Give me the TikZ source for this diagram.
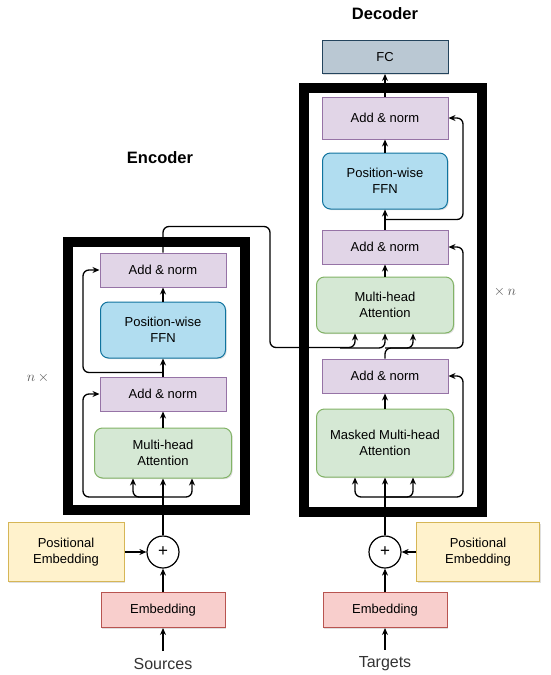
\documentclass[tikz,border=0pt]{standalone}
\usepackage{fontspec}
\setmainfont{Liberation Sans}
\usepackage{xcolor}
\usetikzlibrary{arrows.meta, positioning, shadows}

\definecolor{normfill}{HTML}{E1D5E7}
\definecolor{normdraw}{HTML}{9673A6}
\definecolor{ffnfill}{HTML}{B1DDF0}
\definecolor{ffndraw}{HTML}{10739E}
\definecolor{attfill}{HTML}{D5E8D4}
\definecolor{attdraw}{HTML}{82B366}
\definecolor{posfill}{HTML}{FFF2CC}
\definecolor{posdraw}{HTML}{D6B656}
\definecolor{embfill}{HTML}{F8CECC}
\definecolor{embdraw}{HTML}{B85450}
\definecolor{fcfill}{HTML}{BAC8D3}
\definecolor{fcdraw}{HTML}{23445D}

\begin{document}
\begin{tikzpicture}[
  x=1pt, y=-1pt,
  box/.style={rectangle, line width=1pt, inner sep=0pt, align=center,
              font=\fontsize{13}{15.5}\selectfont,
              drop shadow={shadow xshift=1.2pt, shadow yshift=-1.2pt, opacity=0.25}},
  norm/.style={box, fill=normfill, draw=normdraw, minimum width=126pt, minimum height=34pt},
  ffn/.style={box, rounded corners=8pt, fill=ffnfill, draw=ffndraw, minimum width=125pt, minimum height=56pt},
  att/.style={box, rounded corners=8pt, fill=attfill, draw=attdraw, minimum width=137pt},
  posemb/.style={box, fill=posfill, draw=posdraw, minimum height=59pt},
  emb/.style={box, fill=embfill, draw=embdraw, minimum width=124pt, minimum height=35pt},
  fcbox/.style={box, fill=fcfill, draw=fcdraw, minimum width=126pt, minimum height=33pt},
  plus/.style={circle, draw, line width=1.2pt, fill=white, minimum size=32pt, inner sep=0pt,
               font=\fontsize{17}{17}\selectfont},
  stack/.style={line width=10pt},
  title/.style={font=\fontsize{16.5}{20}\selectfont\bfseries},
  io/.style={font=\fontsize{16}{19}\selectfont, text=black!80, inner sep=7pt},
  rep/.style={font=\fontsize{15}{18}\selectfont, text=black!65},
  arr/.style={-{Stealth[length=7pt, width=6pt]}, line width=1.3pt},
  res/.style={arr, rounded corners=6pt}
]
\useasboundingbox (0,0) rectangle (550,675);

% Column x positions
\def\xE{163}  % Encoder
\def\xD{385}  % Decoder

% Stack frames
\draw[stack] (68,242) rectangle (245,510);
\draw[stack] (304,88) rectangle (482,512);

% Titles and repeat marks
\node[title] (etitle) at (160,158) {Encoder};
\node[title] (dtitle) at (\xD,14)  {Decoder};
\node[rep]   (erep)   at (38,378)  {$n\,\times$};
\node[rep]   (drep)   at (505,292) {$\times\,n$};

% Encoder stack
\node[norm]                    (ean1)  at (\xE,270) {Add \& norm};
\node[ffn]                     (effn)  at (\xE,330) {Position-wise\\FFN};
\node[norm]                    (ean2)  at (\xE,394) {Add \& norm};
\node[att, minimum height=50pt] (emha) at (\xE,453) {Multi-head\\Attention};

% Encoder input
\node[plus]                     (eplus) at (\xE,552) {+};
\node[posemb, minimum width=116pt] (epos) at (66,552) {Positional\\Embedding};
\node[emb]                      (eemb)  at (\xE,610) {Embedding};
\node[io]                       (esrc)  at (\xE,664) {Sources};

% Decoder stack
\node[fcbox]                    (fc)    at (\xD,57)  {FC};
\node[norm, minimum height=42pt] (dan1) at (\xD,118) {Add \& norm};
\node[ffn]                      (dffn)  at (\xD,181) {Position-wise\\FFN};
\node[norm]                     (dan2)  at (\xD,247) {Add \& norm};
\node[att, minimum height=56pt] (dmha)  at (\xD,305) {Multi-head\\Attention};
\node[norm]                     (dan3)  at (\xD,376) {Add \& norm};
\node[att, minimum height=68pt] (dmmha) at (\xD,443) {Masked Multi-head\\Attention};

% Decoder input
\node[plus]                     (dplus) at (\xD,552) {+};
\node[posemb, minimum width=123pt] (dpos) at (478,552) {Positional\\Embedding};
\node[emb]                      (demb)  at (\xD,610) {Embedding};
\node[io]                       (dtgt)  at (\xD,664) {Targets};

% Split points
\coordinate (esplit) at (\xE,497);
\coordinate (dsplit) at (\xD,497);
\coordinate (dmid)   at (\xD,348);

% Encoder arrows
\draw[arr] (esrc) -- (eemb);
\draw[arr] (eemb) -- (eplus);
\draw[arr] (epos) -- (eplus);
\draw[arr] (eplus) -- (emha);
\draw[res] (esplit) -| ([xshift=-30pt]emha.south);
\draw[res] (esplit) -| ([xshift=29pt]emha.south);
\draw[res] (esplit) -- ++(-80,0) |- (ean2.west);
\draw[arr] (emha) -- (ean2);
\draw[arr] (ean2) -- (effn);
\draw[res] ([yshift=4pt]ean2.north) -- ++(-80,0) |- (ean1.west);
\draw[arr] (effn) -- (ean1);

% Encoder output into decoder attention
\draw[res] (ean1.north) -- ++(0,-26) -- ++(107,0) -- ++(0,121) -| ([xshift=-30pt]dmha.south);
\draw[res] ([xshift=-45pt]dmid) -| (dmha.south);

% Decoder arrows
\draw[arr] (dtgt) -- (demb);
\draw[arr] (demb) -- (dplus);
\draw[arr] (dpos) -- (dplus);
\draw[arr] (dplus) -- (dmmha);
\draw[res] (dsplit) -| ([xshift=-30pt]dmmha.south);
\draw[res] (dsplit) -| ([xshift=28pt]dmmha.south);
\draw[res] (dsplit) -- ++(78,0) |- (dan3.east);
\draw[arr] (dmmha) -- (dan3);
\draw[res] (dan3.north) -- (dmid) -| ([xshift=28pt]dmha.south);
\draw[res] (dmid) -- ++(78,0) |- (dan2.east);
\draw[arr] (dmha) -- (dan2);
\draw[arr] (dan2) -- (dffn);
\draw[res] ([yshift=10pt]dan2.north) -- ++(78,0) |- (dan1.east);
\draw[arr] (dffn) -- (dan1);
\draw[arr] (dan1) -- (fc);
\end{tikzpicture}
\end{document}
